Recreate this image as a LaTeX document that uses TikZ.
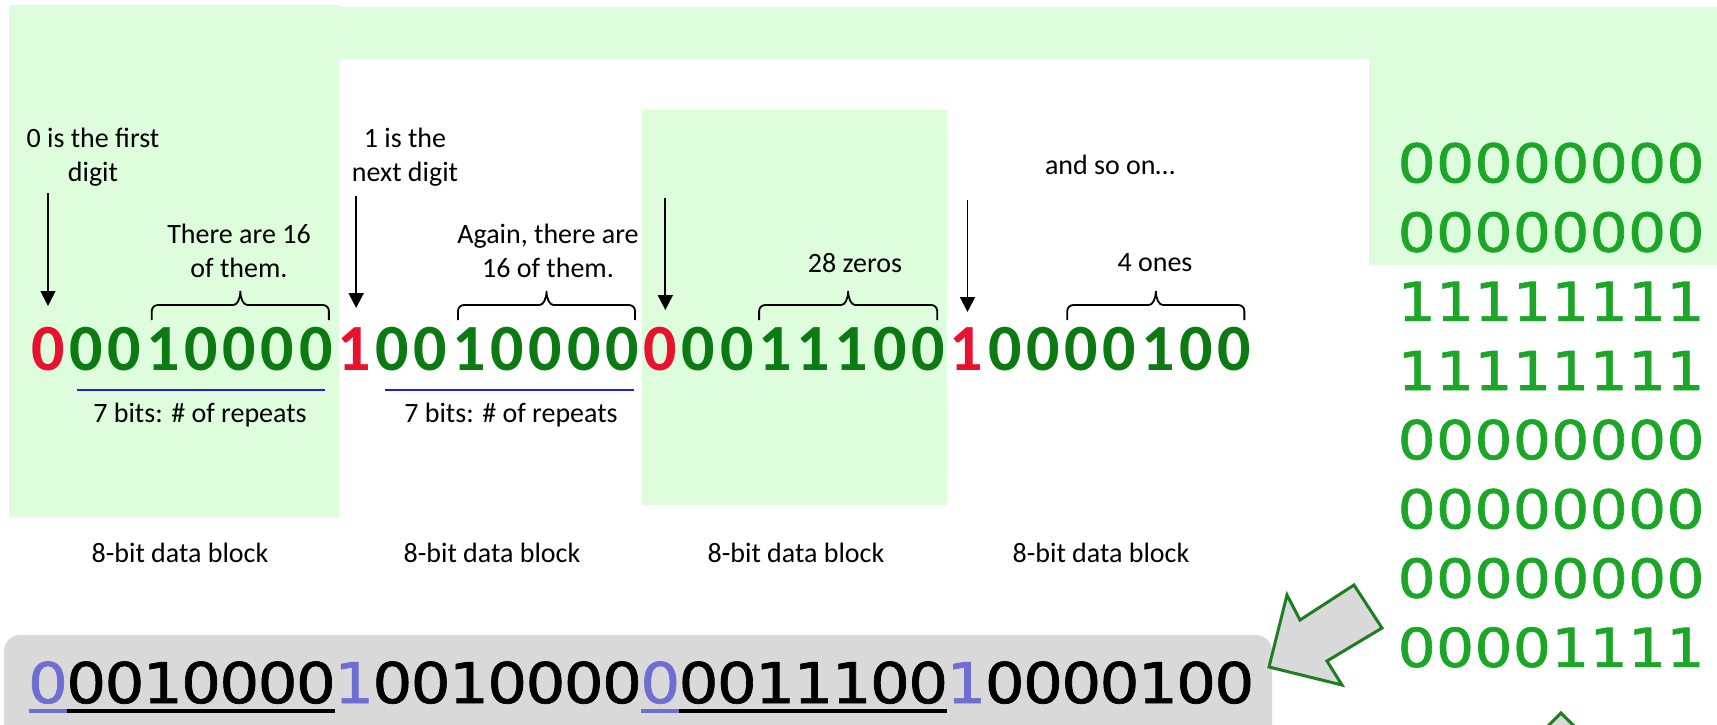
\documentclass[tikz,border=0pt]{standalone}
\usepackage{fontspec}
\setmainfont{Carlito}
\newfontfamily\dvs{DejaVu Sans}[FakeStretch=1.12, FakeBold=1.2]
\usetikzlibrary{arrows.meta,calc}

\definecolor{pale}{RGB}{221,253,221}
\definecolor{bitgreen}{RGB}{12,122,18}
\definecolor{bitred}{RGB}{232,18,46}
\definecolor{colgreen}{RGB}{28,166,40}
\definecolor{ruleblue}{RGB}{30,30,230}
\definecolor{flagblue}{RGB}{110,110,210}
\definecolor{boxgray}{RGB}{217,217,217}
\definecolor{arrgreen}{RGB}{30,125,30}

\begin{document}
\begin{tikzpicture}[x=1pt,y=-1pt,
  bigdig/.style={inner sep=0pt, minimum width=38.27pt, anchor=base,
    font=\fontsize{66}{70}\selectfont\bfseries},
  coldig/.style={inner sep=0pt, minimum width=38.4pt, anchor=base, text=colgreen,
    font=\dvs\fontsize{53.5}{60}\selectfont},
  outdig/.style={inner sep=0pt, minimum width=38.27pt, anchor=base,
    font=\dvs\fontsize{56}{60}\selectfont},
  lbl/.style={inner sep=0pt, anchor=north, align=center,
    font=\fontsize{28}{34}\selectfont},
  pointer/.style={line width=1.8pt, -{Triangle[width=15pt,length=15pt]}},
  curly/.style={line width=1.8pt, to path={
    let \p1=(\tikztostart), \p2=(\tikztotarget), \n1={0.5*(\x1+\x2)} in
    (\x1,\y1) -- (\x1,\y1+9pt)
    arc[start angle=180, end angle=90, radius=6pt]
    -- (\n1-7pt,\y1+15pt)
    arc[start angle=270, end angle=360, x radius=7pt, y radius=14pt]
    arc[start angle=180, end angle=270, x radius=7pt, y radius=14pt]
    -- (\x2-6pt,\y2+15pt)
    arc[start angle=90, end angle=0, radius=6pt]
    -- (\x2,\y2)}},
  underblue/.style={draw=ruleblue, line width=2pt},
  bar/.style={line width=4pt},
  blockarrow/.style={fill=boxgray, draw=arrgreen, line width=3pt, line join=miter}
]
\useasboundingbox (0,0) rectangle (1717,724);

% pale green backdrop
\fill[pale] (9,5) -- (339,5) -- (339,7) -- (1717,7) -- (1717,265) -- (1369,265)
  -- (1369,59) -- (339,59) -- (339,517) -- (9,517) -- cycle;
\fill[pale] (642,110) rectangle (947,505);

% grey result strip
\fill[boxgray, rounded corners=16pt] (4,635) rectangle (1272,790);

% encoded bit stream
\foreach \d [count=\i from 0] in {0,0,0,1,0,0,0,0, 1,0,0,1,0,0,0,0,
                                  0,0,0,1,1,1,0,0, 1,0,0,0,0,1,0,0} {
  \pgfmathtruncatemacro\m{mod(\i,8)}
  \ifnum\m=0 \def\dc{bitred}\else\def\dc{bitgreen}\fi
  \node[bigdig, text=\dc] (a\i) at ({48+38.27*\i},370) {\d};
}

% same stream in the grey strip
\foreach \d [count=\i from 0] in {0,0,0,1,0,0,0,0, 1,0,0,1,0,0,0,0,
                                  0,0,0,1,1,1,0,0, 1,0,0,0,0,1,0,0} {
  \pgfmathtruncatemacro\m{mod(\i,8)}
  \ifnum\m=0 \def\dc{flagblue}\else\def\dc{black}\fi
  \node[outdig, text=\dc] (b\i) at ({48+38.27*\i},703) {\d};
}

% decoded bitmap column
\foreach \row [count=\r from 0] in {
    {0,0,0,0,0,0,0,0},{0,0,0,0,0,0,0,0},{1,1,1,1,1,1,1,1},{1,1,1,1,1,1,1,1},
    {0,0,0,0,0,0,0,0},{0,0,0,0,0,0,0,0},{0,0,0,0,0,0,0,0},{0,0,0,0,1,1,1,1}} {
  \foreach \d [count=\c from 0] in \row {
    \node[coldig] (r\r-\c) at ({1416.7+38.4*\c},{182.4+69.2*\r}) {\d};
  }
}

% underlines in the grey strip
\draw[bar, flagblue] ($(b0.base)+(-19.1,7.5)$) -- ($(b0.base)+(19.1,7.5)$);
\draw[bar, black] ($(b1.base)+(-19.1,7.5)$) -- ($(b7.base)+(19.1,7.5)$);
\draw[bar, flagblue] ($(b16.base)+(-19.1,7.5)$) -- ($(b16.base)+(19.1,7.5)$);
\draw[bar, black] ($(b17.base)+(-19.1,7.5)$) -- ($(b23.base)+(19.1,7.5)$);

% pointers to the flag bits
\draw[pointer] ($(a0.base)+(0,-177)$) -- ($(a0.base)+(0,-64)$);
\draw[pointer] ($(a8.base)+(2,-174)$) -- ($(a8.base)+(2,-62)$);
\draw[pointer] ($(a16.base)+(5,-172)$) -- ($(a16.base)+(5,-60)$);
\draw[pointer] ($(a24.base)+(1,-170)$) -- ($(a24.base)+(1,-58)$);

% braces over the counts
\draw[curly] ($(a3.base)+(-11,-50)$) to ($(a7.base)+(13,-50)$);
\draw[curly] ($(a11.base)+(-11,-50)$) to ($(a15.base)+(13,-50)$);
\draw[curly] ($(a19.base)+(-16,-50)$) to ($(a23.base)+(9,-50)$);
\draw[curly] ($(a27.base)+(-14,-50)$) to ($(a31.base)+(10,-50)$);

% blue rules under the repeat counts
\draw[underblue] ($(a1.base)+(-9,20)$) -- ($(a7.base)+(9,20)$);
\draw[underblue] ($(a9.base)+(-7,20)$) -- ($(a15.base)+(12,20)$);

% labels
\node[lbl] (l1) at (93,128) {0 is the first\\digit};
\node[lbl] (l2) at (405,128) {1 is the\\next digit};
\node[lbl] (l3) at (239,224) {There are 16\\of them.};
\node[lbl] (l4) at (548,224) {Again, there are\\16 of them.};
\node[lbl] (l5) at (855,253) {28 zeros};
\node[lbl] (l6) at (1155,253) {4 ones};
\node[lbl] (l7) at (1110,155) {and so on…};
\node[lbl] (l8) at (200,403) {7 bits: \# of repeats};
\node[lbl] (l9) at (511,403) {7 bits: \# of repeats};
\node[lbl] (k1) at (180,543) {8-bit data block};
\node[lbl] (k2) at (492,543) {8-bit data block};
\node[lbl] (k3) at (796,543) {8-bit data block};
\node[lbl] (k4) at (1101,543) {8-bit data block};

% block arrows
\filldraw[blockarrow] (1269,667) -- (1287,595) -- (1300,620) -- (1354,585)
  -- (1382,628) -- (1327,661) -- (1342,685) -- cycle;
\filldraw[blockarrow] (1561,713) -- (1544,730) -- (1578,730) -- cycle;
\end{tikzpicture}
\end{document}
